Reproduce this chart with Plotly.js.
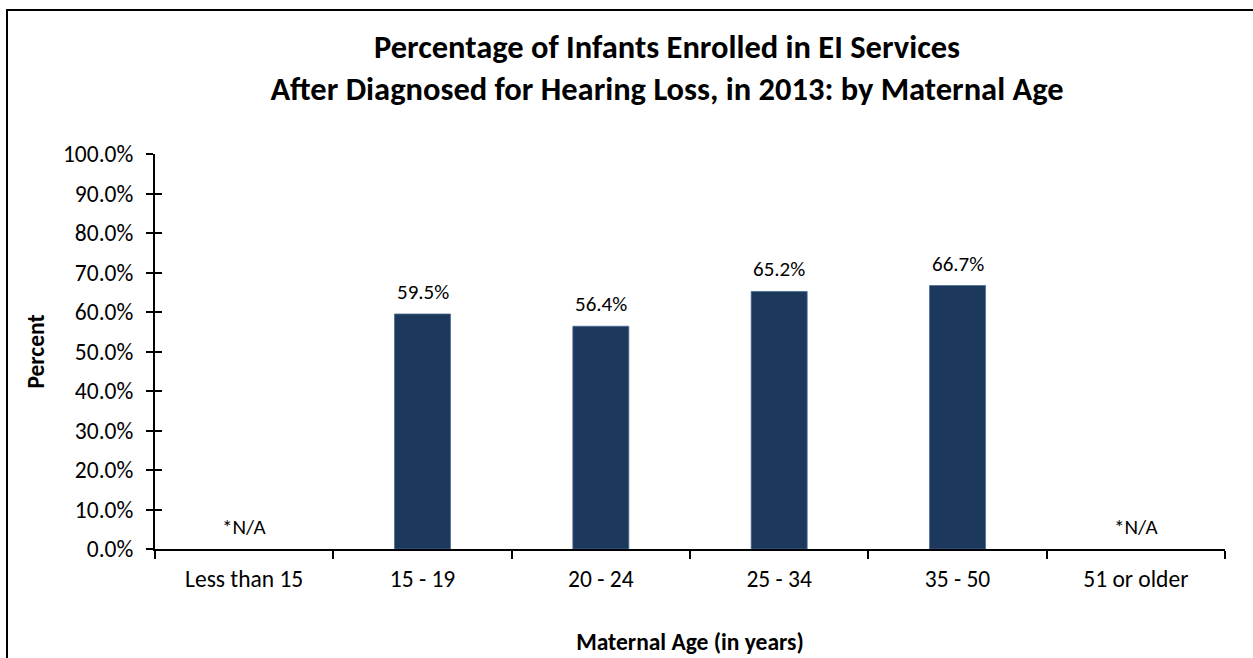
<!DOCTYPE html>
<html>
<head>
<meta charset="utf-8">
<script src="https://cdn.plot.ly/plotly-3.0.1.min.js"></script>
<style>
  html, body { margin: 0; padding: 0; background: #fff; }
  #wrap { position: relative; width: 1253px; height: 658px; overflow: hidden; }
  #frame { position: absolute; left: 6px; top: 9px; width: 1400px; height: 800px;
           border-left: 2px solid #000; border-top: 2px solid #000; pointer-events: none; z-index: 5; }
  #chart { position: absolute; left: 0; top: 0; width: 1253px; height: 658px; }
</style>
</head>
<body>
<div id="wrap">
  <div id="chart"></div>
  <div id="frame"></div>
</div>
<script>
const categories = ["Less than 15", "15 - 19", "20 - 24", "25 - 34", "35 - 50", "51 or older"];
const percentValues = [null, 59.5, 56.4, 65.2, 66.7, null];
const valueLabels = ["*N/A", "59.5%", "56.4%", "65.2%", "66.7%", "*N/A"];
const yTickValues = [0, 10, 20, 30, 40, 50, 60, 70, 80, 90, 100];
const yTickLabels = ["0.0%", "10.0%", "20.0%", "30.0%", "40.0%", "50.0%", "60.0%", "70.0%", "80.0%", "90.0%", "100.0%"];

const FONT = "Calibri, Carlito, Lato, sans-serif";
const barColor = "#1c385c";

const trace = {
  type: "bar",
  x: categories,
  y: percentValues,
  marker: { color: barColor, line: { color: "#4d6d94", width: 0.8 } },
  hoverinfo: "x+y",
  showlegend: false
};

const annotations = categories.map((c, i) => {
  const v = percentValues[i];
  const isNA = v === null;
  return {
    x: c, y: isNA ? 0 : v, xref: "x", yref: "y",
    text: valueLabels[i], showarrow: false,
    yanchor: "middle", yshift: 22,
    font: { family: FONT, size: 21, color: "#000" }
  };
});

const layout = {
  width: 1253, height: 658,
  paper_bgcolor: "#fff", plot_bgcolor: "#fff",
  margin: { l: 155, r: 28, t: 154, b: 109 },
  font: { family: FONT, color: "#000" },
  bargap: 0.686,
  title: {
    text: "<b>Percentage of Infants Enrolled in EI Services<br>After Diagnosed for Hearing Loss, in 2013: by Maternal Age</b>",
    font: { family: FONT, size: 32.5, color: "#000" },
    xref: "container", x: 667 / 1253, xanchor: "center",
    yref: "container", y: 1 - 58 / 658, yanchor: "top"
  },
  xaxis: {
    type: "category",
    range: [-0.5, 5.5],
    showline: true, linecolor: "#000", linewidth: 2,
    ticks: "outside", tickson: "boundaries", ticklen: 8, tickwidth: 2, tickcolor: "#000",
    tickfont: { family: FONT, size: 23.5, color: "#000" },
    ticklabelstandoff: 8,
    showgrid: false, zeroline: false,
    title: { text: "<b>Maternal Age (in years)</b>", font: { family: FONT, size: 23.5, color: "#000" }, standoff: 41 }
  },
  yaxis: {
    range: [0, 100],
    tickvals: yTickValues, ticktext: yTickLabels,
    showline: true, linecolor: "#000", linewidth: 2,
    ticks: "outside", ticklen: 7, tickwidth: 2, tickcolor: "#000",
    tickfont: { family: FONT, size: 23.5, color: "#000" },
    ticklabelstandoff: 8,
    showgrid: false, zeroline: false,
    title: { text: "<b>Percent</b>", font: { family: FONT, size: 23.5, color: "#000" }, standoff: 12 }
  },
  yaxis2: {
    overlaying: "y", range: [0, 100], tickvals: yTickValues,
    showticklabels: false, ticks: "inside", ticklen: 7, tickwidth: 2, tickcolor: "#000",
    showgrid: false, zeroline: false, showline: false
  },
  annotations: annotations
};

const tickTrace = { type: "scatter", x: [], y: [], yaxis: "y2", showlegend: false, hoverinfo: "skip" };

Plotly.newPlot("chart", [trace, tickTrace], layout, { displayModeBar: false });
</script>
</body>
</html>
